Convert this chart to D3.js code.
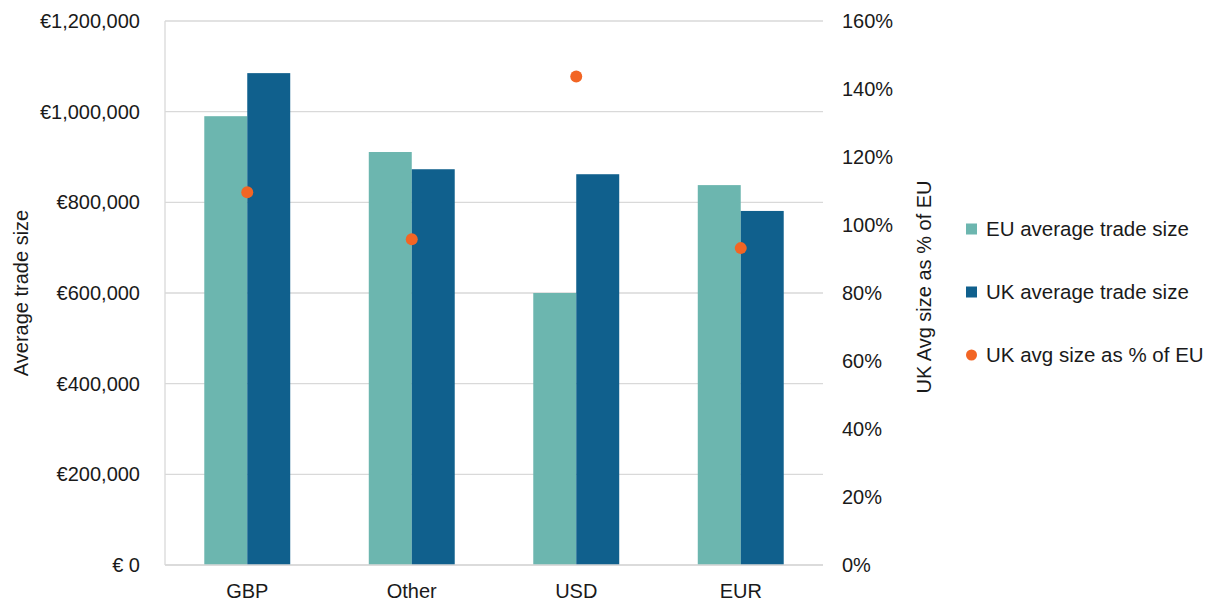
<!DOCTYPE html>
<html>
<head>
<meta charset="utf-8">
<script src="https://cdn.jsdelivr.net/npm/d3@7"></script>
<style>
  body { margin: 0; background: #fff; }
  svg text { font-family: "Liberation Sans", Arial, Helvetica, sans-serif; fill: #1a1a1a; }
</style>
</head>
<body>
<div id="chart"></div>
<script>
// data
var currencies = ["GBP", "Other", "USD", "EUR"];
var euAvgSize = [990000, 911000, 600000, 838000];
var ukAvgSize = [1085000, 873000, 862000, 781000];
var ukPctOfEu = [1.096, 0.958, 1.437, 0.932];
var leftTicks = [0, 200000, 400000, 600000, 800000, 1000000, 1200000];
var rightTicks = [0, 0.2, 0.4, 0.6, 0.8, 1.0, 1.2, 1.4, 1.6];
var seriesNames = ["EU average trade size", "UK average trade size", "UK avg size as % of EU"];
var colors = ["#6cb6af", "#10608d", "#f26524"];

var width = 1220, height = 606;
var margin = {top: 21, right: 397, bottom: 41, left: 165};
var plotW = width - margin.left - margin.right,
    plotH = height - margin.top - margin.bottom;

var svg = d3.select("#chart")
  .append("svg")
  .attr("width", width)
  .attr("height", height);

var g = svg.append("g")
  .attr("transform", "translate(" + margin.left + "," + margin.top + ")");

var x0 = d3.scaleBand()
  .domain(currencies)
  .range([0, plotW])
  .paddingInner(0.4775)
  .paddingOuter(0.2388);

var x1 = d3.scaleBand()
  .domain([0, 1])
  .range([0, x0.bandwidth()]);

var yLeft = d3.scaleLinear().domain([0, 1200000]).range([plotH, 0]);
var yRight = d3.scaleLinear().domain([0, 1.6]).range([plotH, 0]);

// gridlines
g.append("g")
  .selectAll("line")
  .data(leftTicks)
  .enter()
  .append("line")
  .attr("x1", 0)
  .attr("x2", plotW)
  .attr("y1", function(d) { return yLeft(d); })
  .attr("y2", function(d) { return yLeft(d); })
  .attr("stroke", "#d9d9d9")
  .attr("stroke-width", 1.3);

// left vertical line
g.append("line")
  .attr("x1", 0).attr("x2", 0)
  .attr("y1", 0).attr("y2", plotH)
  .attr("stroke", "#d9d9d9")
  .attr("stroke-width", 1.3);

// bars
var rows = currencies.map(function(c, i) {
  return {cat: c, vals: [euAvgSize[i], ukAvgSize[i]], pct: ukPctOfEu[i]};
});

var groups = g.selectAll(".grp")
  .data(rows)
  .enter()
  .append("g")
  .attr("transform", function(d) { return "translate(" + x0(d.cat) + ",0)"; });

groups.selectAll("rect")
  .data(function(d) { return d.vals; })
  .enter()
  .append("rect")
  .attr("x", function(d, i) { return x1(i); })
  .attr("width", x1.bandwidth())
  .attr("y", function(d) { return yLeft(d); })
  .attr("height", function(d) { return plotH - yLeft(d); })
  .attr("fill", function(d, i) { return colors[i]; });

// bottom axis line
g.append("line")
  .attr("x1", 0).attr("x2", plotW)
  .attr("y1", plotH).attr("y2", plotH)
  .attr("stroke", "#d9d9d9")
  .attr("stroke-width", 1.3);

// dots
g.selectAll(".dot")
  .data(rows)
  .enter()
  .append("circle")
  .attr("cx", function(d) { return x0(d.cat) + x0.bandwidth() / 2; })
  .attr("cy", function(d) { return yRight(d.pct); })
  .attr("r", 6)
  .attr("fill", colors[2]);

// axes
var fmtEuro = function(d) {
  return d === 0 ? "€ 0" : "€" + d3.format(",")(d);
};

var leftAxis = g.append("g")
  .attr("transform", "translate(-25,0)")
  .call(d3.axisLeft(yLeft).tickValues(leftTicks).tickFormat(fmtEuro).tickSize(0).tickPadding(0));
leftAxis.select(".domain").remove();
leftAxis.selectAll("text").style("font-size", "20px");

var rightAxis = g.append("g")
  .attr("transform", "translate(" + (plotW + 19) + ",0)")
  .call(d3.axisRight(yRight).tickValues(rightTicks).tickFormat(d3.format(".0%")).tickSize(0).tickPadding(0));
rightAxis.select(".domain").remove();
rightAxis.selectAll("text").style("font-size", "20px");

var bottomAxis = g.append("g")
  .attr("transform", "translate(0," + plotH + ")")
  .call(d3.axisBottom(x0).tickSize(0).tickPadding(19));
bottomAxis.select(".domain").remove();
bottomAxis.selectAll("text").style("font-size", "20px");

// axis titles
svg.append("text")
  .attr("transform", "translate(28," + (margin.top + plotH / 2) + ") rotate(-90)")
  .attr("text-anchor", "middle")
  .style("font-size", "20px")
  .text("Average trade size");

svg.append("text")
  .attr("transform", "translate(931,287) rotate(-90)")
  .attr("text-anchor", "middle")
  .style("font-size", "20px")
  .text("UK Avg size as % of EU");

// legend
var legend = svg.append("g").attr("transform", "translate(966,229)");
var items = legend.selectAll("g")
  .data(seriesNames)
  .enter()
  .append("g")
  .attr("transform", function(d, i) { return "translate(0," + (i * 63) + ")"; });

items.each(function(d, i) {
  var it = d3.select(this);
  if (i < 2) {
    it.append("rect")
      .attr("x", 0).attr("y", -5.5)
      .attr("width", 11).attr("height", 11)
      .attr("fill", colors[i]);
  } else {
    it.append("circle")
      .attr("cx", 5.5).attr("cy", 0)
      .attr("r", 5.5)
      .attr("fill", colors[i]);
  }
  it.append("text")
    .attr("x", 20)
    .attr("dy", "0.35em")
    .style("font-size", "20.5px")
    .text(d);
});
</script>
</body>
</html>
